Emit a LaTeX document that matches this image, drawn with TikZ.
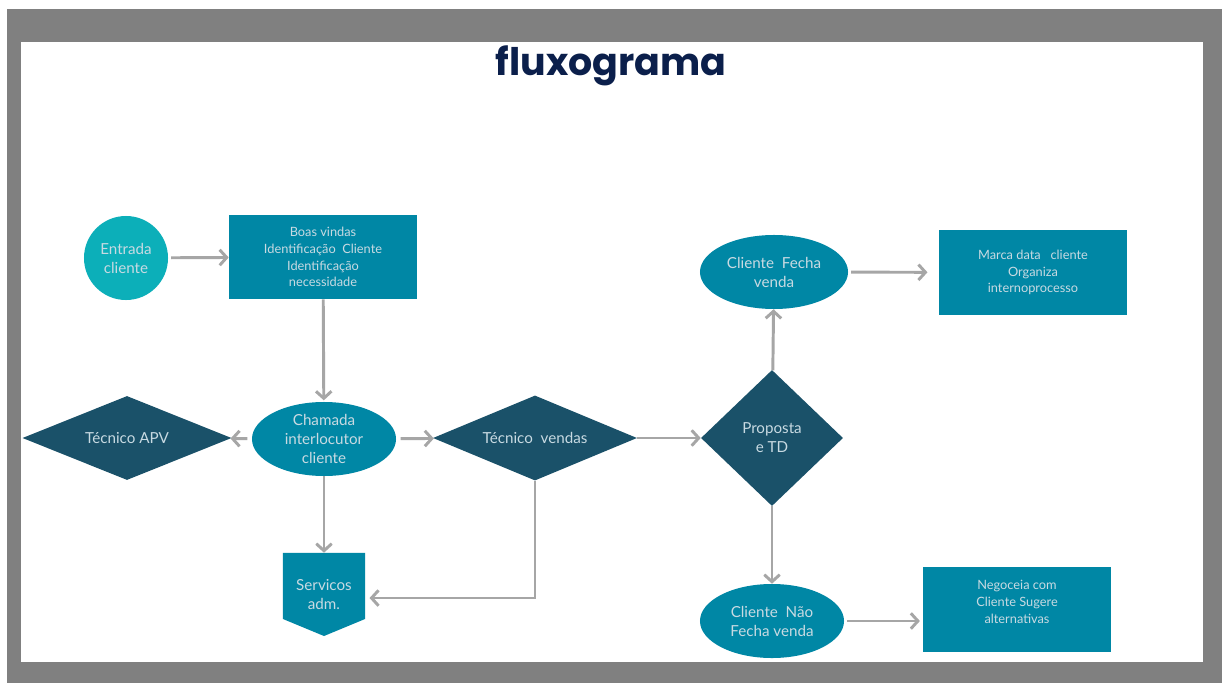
\documentclass[tikz,border=0pt]{standalone}
\usepackage{fontspec}
\setmainfont{Lato}
\newfontfamily\titlefont{Poppins}
\usepackage{tikz}
\usetikzlibrary{positioning}
\usetikzlibrary{shapes.geometric}
\usetikzlibrary{arrows.meta}
\definecolor{framegray}{RGB}{128,128,128}
\definecolor{entryteal}{RGB}{12,175,185}
\definecolor{boxteal}{RGB}{0,135,165}
\definecolor{darkpetrol}{RGB}{26,81,105}
\definecolor{titlenavy}{RGB}{11,31,75}
\definecolor{arrowgray}{RGB}{166,166,166}
\definecolor{lighttext}{RGB}{200,218,226}
\newcommand{\boxwidth}{4.7cm}
\newcommand{\boxheight}{2.1cm}
\newcommand{\smalltext}{\fontsize{9.1pt}{12pt}\selectfont}
\newcommand{\bigtext}{\fontsize{10.8pt}{13.5pt}\selectfont}
\tikzset{
    common/.style={text=lighttext, align=center, inner sep=0pt},
    startnode/.style={common, circle, fill=entryteal, minimum size=2.1cm, font=\bigtext},
    procbox/.style={common, rectangle, fill=boxteal, minimum width=\boxwidth, minimum height=\boxheight, font=\smalltext},
    callnode/.style={common, ellipse, fill=boxteal, minimum width=3.6cm, minimum height=1.85cm, font=\bigtext},
    choice/.style={common, diamond, fill=darkpetrol, font=\bigtext},
    offpage/.style={common, rectangle, minimum width=2.05cm, minimum height=2.075cm, font=\bigtext,
        path picture={
            \fill[boxteal] (path picture bounding box.north west) -- (path picture bounding box.north east)
                -- ([yshift=0.425cm]path picture bounding box.south east) -- (path picture bounding box.south)
                -- ([yshift=0.425cm]path picture bounding box.south west) -- cycle;
        }},
    flow/.style={draw=arrowgray, line width=2.1pt, -{Straight Barb[length=5pt, width=11pt, line width=2.1pt]}},
}

\begin{document}
\begin{tikzpicture}[x=0.025cm, y=-0.025cm]
    \useasboundingbox (0,0) rectangle (1222,683);
    % frame
    \fill[framegray] (7,9) rectangle (1222,683);
    \fill[white] (21,42) rectangle (1203,662);

    \node[text=titlenavy, font=\titlefont\bfseries\fontsize{27pt}{30pt}\selectfont] (title) at (611,66) {fluxograma};

    \node[startnode] (entrada) at (126,258) {Entrada\\cliente};
    \node[procbox] (boas) at (323,257) {Boas vindas\\Identificação\ \ Cliente\\Identificação\\necessidade};
    \node[callnode] (chamada) at (324,439) {Chamada\\interlocutor\\cliente};
    \node[choice, shape aspect=2.5, minimum width=5.225cm, minimum height=2.1cm] (apv) at (127,438) {Técnico APV};
    \node[choice, shape aspect=2.4, minimum width=5.1cm, minimum height=2.125cm] (vendas) at (535,438) {Técnico\ \ vendas};
    \node[choice, minimum width=3.55cm, minimum height=3.4cm] (proposta) at (772,438) {Proposta\\e TD};
    \node[offpage] (servicos) at (324,594.5) {Servicos\\adm.};
    \node[callnode, minimum width=3.7cm] (fecha) at (774,272) {Cliente\ \ Fecha\\venda};
    \node[callnode] (naofecha) at (772,621) {Cliente\ \ Não\\Fecha venda};
    \node[procbox, minimum height=2.125cm] (marca) at (1033,272.5) {Marca data\ \ \ cliente\\Organiza\\internoprocesso};
    \node[procbox, minimum height=2.125cm,
          label={[common, font=\smalltext, yshift=0.19cm]center:{Negoceia com\\Cliente Sugere\\alternativas}}] (negoceia) at (1017,609.5) {};

    \draw[flow, shorten <=2pt] (entrada) -- (boas);
    \draw[flow, shorten >=1pt] (boas) -- (chamada);
    \draw[flow, shorten <=3pt] (chamada) -- (apv);
    \draw[flow, shorten <=3pt] (chamada) -- (vendas);
    \draw[flow] (chamada) -- (servicos);
    \draw[flow] (vendas) -- (proposta);
    \draw[flow] (vendas.south) |- ([xshift=3pt, yshift=-2.5pt]servicos.east);
    \draw[flow] (proposta) -- (fecha);
    \draw[flow] (proposta) -- (naofecha);
    \draw[flow, shorten <=2pt, shorten >=8pt] (fecha) -- (marca);
    \draw[flow, shorten <=2pt, shorten >=2pt] (naofecha.east) -- (naofecha.east -| negoceia.west);
\end{tikzpicture}
\end{document}
